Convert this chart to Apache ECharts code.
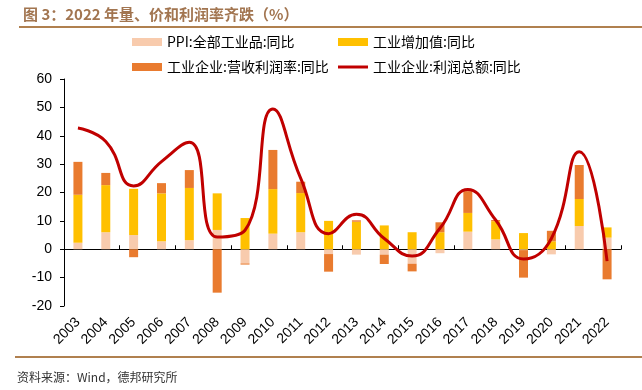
<!DOCTYPE html>
<html lang="zh" style="height: 100%">
<head>
<meta charset="utf-8">
<title>2022 年量、价和利润率齐跌</title>
</head>
<body style="height: 100%; margin: 0">
<div id="container" style="width: 642px; height: 390px"></div>
<script type="text/javascript" src="https://cdn.jsdelivr.net/npm/echarts@6/dist/echarts.min.js"></script>
<script type="text/javascript">
var years = ['2003', '2004', '2005', '2006', '2007', '2008', '2009', '2010', '2011', '2012',
    '2013', '2014', '2015', '2016', '2017', '2018', '2019', '2020', '2021', '2022'];
// PPI:全部工业品:同比
var ppi = [2.3, 6.0, 5.0, 2.8, 3.2, 6.8, -5.0, 5.5, 6.0, -1.7,
    -1.9, -1.9, -5.1, -1.4, 6.2, 3.5, -0.3, -1.8, 8.2, 4.1];
// 工业增加值:同比
var valueAdded = [16.9, 16.6, 16.3, 16.9, 18.4, 12.9, 11.0, 15.7, 13.8, 10.0,
    9.7, 8.4, 6.0, 6.0, 6.6, 6.4, 5.7, 2.8, 9.5, 3.6];
// 工业企业:营收利润率:同比
var margin = [11.6, 4.3, -2.8, 3.6, 6.3, -15.3, -0.4, 13.8, 4.0, -6.2,
    0.5, -3.3, -2.7, 3.5, 7.7, 0.4, -9.7, 3.7, 12.0, -10.6];
// 工业企业:利润总额:同比
var profit = [42.7, 38.0, 22.3, 30.9, 37.7, 4.3, 6.7, 49.4, 25.0, 5.5,
    12.3, 3.8, -2.4, 7.4, 21.1, 10.3, -3.4, 3.8, 34.4, -4.2];

var dom = document.getElementById('container');
var myChart = echarts.init(dom, null, { renderer: 'canvas' });

var font = '"Liberation Sans", Arial, sans-serif';
var cjk = '"Noto Sans CJK SC", sans-serif';
var brown = '#B0804F';

var option = {
    animation: false,
    title: {
        text: '图 3：2022 年量、价和利润率齐跌（%）',
        left: 18,
        top: 2,
        textStyle: { fontFamily: cjk, fontSize: 15, fontWeight: 'bold', color: '#A27550' }
    },
    graphic: [
        { type: 'line', shape: { x1: 19, y1: 27, x2: 642, y2: 27 }, style: { stroke: brown, lineWidth: 2 } },
        { type: 'line', shape: { x1: 15, y1: 357, x2: 642, y2: 357 }, style: { stroke: brown, lineWidth: 2 } },
        {
            type: 'text', left: 17, top: 371,
            style: { text: '资料来源：Wind，德邦研究所', font: '12px ' + cjk, fill: '#333' }
        }
    ],
    legend: [
        {
            orient: 'vertical', left: 127, top: 30, itemWidth: 30, itemHeight: 8, itemGap: 11,
            icon: 'rect',
            textStyle: { fontFamily: cjk, fontSize: 14, color: '#000' },
            data: ['PPI:全部工业品:同比', '工业企业:营收利润率:同比']
        },
        {
            orient: 'vertical', left: 333, top: 30, itemWidth: 30, itemHeight: 8, itemGap: 11,
            textStyle: { fontFamily: cjk, fontSize: 14, color: '#000' },
            data: [
                { name: '工业增加值:同比', icon: 'rect' },
                { name: '工业企业:利润总额:同比', icon: 'path://M0,0h30v3h-30z' }
            ]
        }
    ],
    grid: { left: 64, right: 21, top: 79, bottom: 84 },
    xAxis: [
        {
            type: 'category', data: years, position: 'bottom',
            axisLine: { show: false, onZero: false },
            axisTick: { show: false },
            axisLabel: { rotate: 45, margin: 14, fontFamily: font, fontSize: 14, color: '#000' }
        },
        {
            type: 'category', data: years,
            axisLine: { show: true, onZero: true, lineStyle: { color: '#000', width: 1 } },
            axisTick: { show: true, length: 4, lineStyle: { color: '#000' } },
            axisLabel: { show: false }
        }
    ],
    yAxis: {
        type: 'value', min: -20, max: 60, interval: 10,
        axisLine: { show: true, lineStyle: { color: '#000' } },
        axisTick: { show: true, length: 4, lineStyle: { color: '#000' } },
        axisLabel: { fontFamily: font, fontSize: 14, color: '#000', margin: 12 },
        splitLine: { show: false }
    },
    series: [
        {
            name: 'PPI:全部工业品:同比', type: 'bar', stack: 'total', barWidth: 9,
            itemStyle: { color: '#F8CBAD' }, data: ppi
        },
        {
            name: '工业增加值:同比', type: 'bar', stack: 'total', barWidth: 9,
            itemStyle: { color: '#FFC000' }, data: valueAdded
        },
        {
            name: '工业企业:营收利润率:同比', type: 'bar', stack: 'total', barWidth: 9,
            itemStyle: { color: '#E97B2F' }, data: margin
        },
        {
            name: '工业企业:利润总额:同比', type: 'line', smooth: 0.5, symbol: 'none',
            lineStyle: { color: '#C00000', width: 3 }, itemStyle: { color: '#C00000' },
            data: profit
        }
    ]
};

myChart.setOption(option);
window.addEventListener('resize', myChart.resize);
</script>
</body>
</html>
